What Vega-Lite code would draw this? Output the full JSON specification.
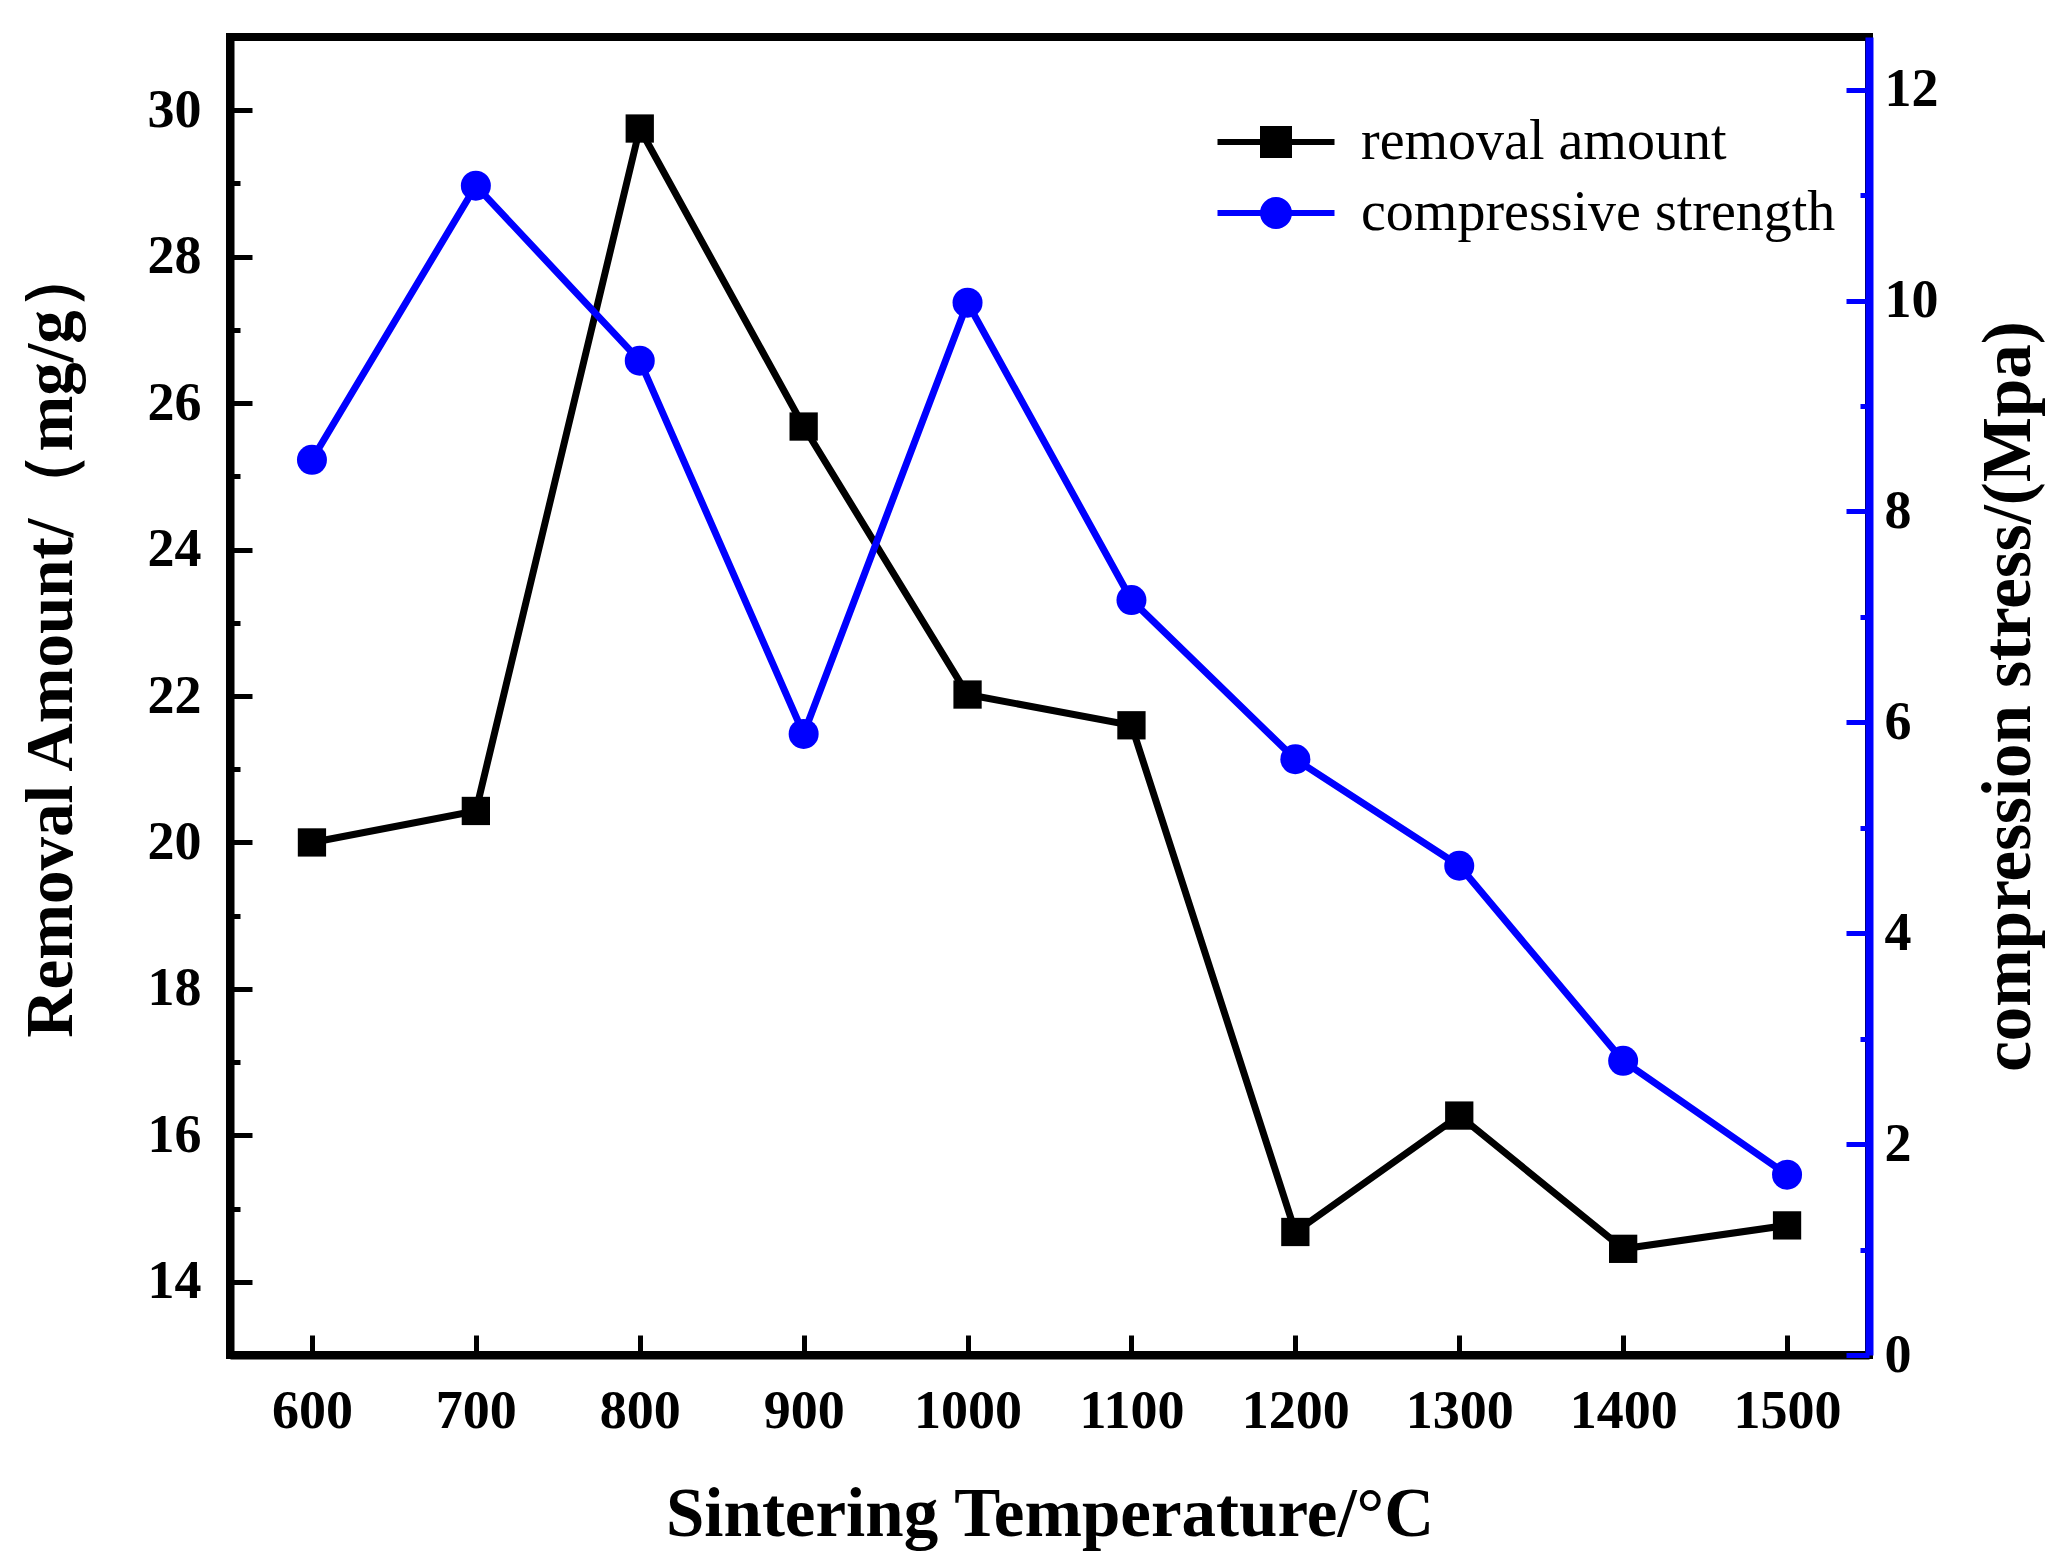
{
  "$schema": "https://vega.github.io/schema/vega-lite/v6.json",
  "width": 1639,
  "height": 1318,
  "autosize": {"type": "none"},
  "padding": {"left": 230, "top": 37, "right": 194, "bottom": 213},
  "background": "white",
  "data": {
    "values": [
      {"temperature": 600, "removal": 20.0, "strength": 8.49},
      {"temperature": 700, "removal": 20.43, "strength": 11.09},
      {"temperature": 800, "removal": 29.75, "strength": 9.43},
      {"temperature": 900, "removal": 25.68, "strength": 5.89},
      {"temperature": 1000, "removal": 22.02, "strength": 9.98},
      {"temperature": 1100, "removal": 21.6, "strength": 7.16},
      {"temperature": 1200, "removal": 14.68, "strength": 5.65},
      {"temperature": 1300, "removal": 16.27, "strength": 4.64},
      {"temperature": 1400, "removal": 14.45, "strength": 2.79},
      {"temperature": 1500, "removal": 14.77, "strength": 1.71}
    ]
  },
  "encoding": {
    "x": {
      "field": "temperature",
      "type": "quantitative",
      "title": "Sintering Temperature/°C",
      "scale": {"domain": [550, 1550], "nice": false, "zero": false},
      "axis": {
        "values": [600, 700, 800, 900, 1000, 1100, 1200, 1300, 1400, 1500],
        "format": "d",
        "tickSize": -20,
        "labelPadding": 49,
        "titlePadding": 42
      }
    }
  },
  "layer": [
    {
      "encoding": {
        "y": {
          "field": "removal",
          "type": "quantitative",
          "title": "Removal Amount/（mg/g）",
          "scale": {"domain": [13, 31], "nice": false, "zero": false},
          "axis": {
            "orient": "left",
            "values": [14, 15, 16, 17, 18, 19, 20, 21, 22, 23, 24, 25, 26, 27, 28, 29, 30],
            "labelExpr": "datum.value % 2 === 0 ? datum.label : ''",
            "tickSize": {"condition": {"test": "datum.value % 2 === 0", "value": -22}, "value": -10},
            "labelPadding": 51,
            "titlePadding": 62,
            "titleFontSize": 67,
            "titleY": 603
          }
        },
        "color": {
          "datum": "removal amount",
          "scale": {"domain": ["removal amount", "compressive strength"], "range": ["black", "blue"]},
          "legend": {
            "title": null,
            "orient": "none",
            "legendX": 1018,
            "legendY": 77,
            "padding": 0,
            "rowPadding": 15,
            "symbolSize": 676,
            "symbolStrokeWidth": 6,
            "labelOffset": 57,
            "labelLimit": 0,
            "labelFont": "Liberation Serif",
            "labelFontSize": 56,
            "labelFontWeight": "normal",
            "labelColor": "black",
            "encode": {
              "symbols": {
                "update": {
                  "shape": {"signal": "datum.value === 'removal amount' ? 'M-4.5,0H4.5M-1,-1H1V1H-1Z' : 'M-4.5,0H4.5M1,0A1,1,0,1,1,-1,0A1,1,0,1,1,1,0Z'"},
                  "fill": {"signal": "datum.value === 'removal amount' ? 'black' : 'blue'"},
                  "stroke": {"signal": "datum.value === 'removal amount' ? 'black' : 'blue'"},
                  "strokeWidth": {"value": 6},
                  "opacity": {"value": 1}
                }
              }
            }
          }
        }
      },
      "layer": [
        {"mark": {"type": "line", "strokeWidth": 7}},
        {"mark": {"type": "point", "shape": "square", "filled": true, "size": 800, "opacity": 1}}
      ]
    },
    {
      "encoding": {
        "y": {
          "field": "strength",
          "type": "quantitative",
          "title": "compression stress/(Mpa)",
          "scale": {"domain": [0, 12.5], "nice": false},
          "axis": {
            "orient": "right",
            "values": [0, 1, 2, 3, 4, 5, 6, 7, 8, 9, 10, 11, 12],
            "labelExpr": "datum.value % 2 === 0 ? datum.label : ''",
            "tickSize": {"condition": {"test": "datum.value % 2 === 0", "value": -23}, "value": -9},
            "labelPadding": 38,
            "titlePadding": 105,
            "titleAngle": 270,
            "domainColor": "blue",
            "tickColor": "blue"
          }
        },
        "color": {"datum": "compressive strength"}
      },
      "layer": [
        {"mark": {"type": "line", "strokeWidth": 7}},
        {"mark": {"type": "point", "shape": "circle", "filled": true, "size": 900, "opacity": 1}}
      ]
    }
  ],
  "resolve": {"scale": {"y": "independent"}},
  "config": {
    "font": "Liberation Serif",
    "view": {"stroke": "black", "strokeWidth": 8},
    "axis": {
      "grid": false,
      "domainColor": "black",
      "domainWidth": 8,
      "tickColor": "black",
      "tickWidth": 5,
      "labelFont": "Liberation Serif",
      "labelFontSize": 54,
      "labelFontWeight": "bold",
      "labelColor": "black",
      "labelFlush": false,
      "labelOverlap": false,
      "titleFont": "Liberation Serif",
      "titleFontSize": 69,
      "titleFontWeight": "bold",
      "titleColor": "black"
    }
  }
}
